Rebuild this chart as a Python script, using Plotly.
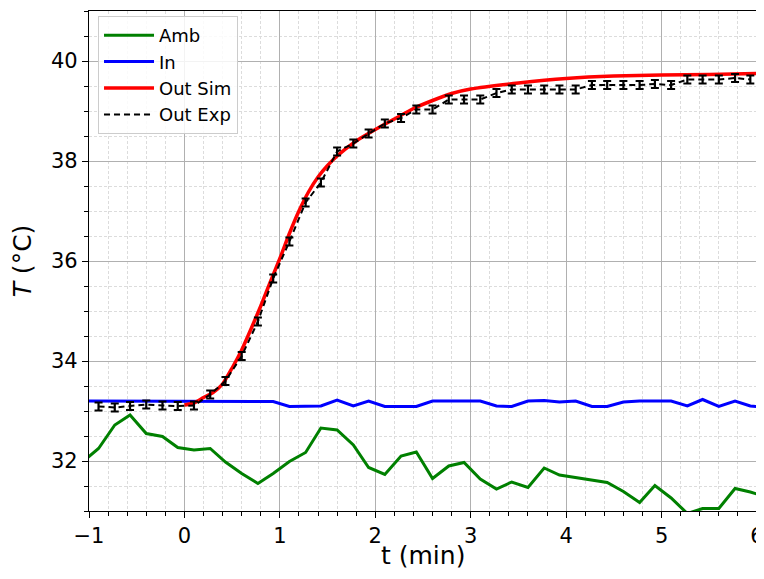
import plotly.graph_objects as go

# time grid of measurements (min)
t_meas = [-1.07, -0.9, -0.73, -0.57, -0.4, -0.23, -0.07, 0.1, 0.27, 0.43, 0.6, 0.77,
          0.93, 1.1, 1.27, 1.43, 1.6, 1.77, 1.93, 2.1, 2.27, 2.43, 2.6, 2.77, 2.93,
          3.1, 3.27, 3.43, 3.6, 3.77, 3.93, 4.1, 4.27, 4.43, 4.6, 4.77, 4.93, 5.1,
          5.27, 5.43, 5.6, 5.77, 5.93, 6.1]

amb = [31.98, 32.25, 32.72, 32.92, 32.55, 32.49, 32.27, 32.22, 32.25, 31.98, 31.75,
       31.55, 31.75, 31.99, 32.17, 32.66, 32.62, 32.32, 31.87, 31.73, 32.10, 32.18,
       31.65, 31.90, 31.97, 31.64, 31.44, 31.58, 31.47, 31.86, 31.72, 31.67, 31.61,
       31.57, 31.39, 31.17, 31.51, 31.26, 30.95, 31.05, 31.05, 31.45, 31.38, 31.28]

t_in = t_meas
inlet = [33.20, 33.20, 33.20, 33.20, 33.20, 33.20, 33.20, 33.19, 33.19, 33.19, 33.19,
         33.19, 33.19, 33.09, 33.09, 33.10, 33.22, 33.10, 33.20, 33.09, 33.09, 33.09,
         33.20, 33.20, 33.20, 33.20, 33.10, 33.09, 33.20, 33.21, 33.18, 33.20, 33.09,
         33.09, 33.18, 33.20, 33.20, 33.20, 33.10, 33.23, 33.09, 33.20, 33.10, 33.07]

t_exp = t_meas[1:43]
out_exp = [33.09, 33.07, 33.10, 33.13, 33.11, 33.10, 33.11, 33.33, 33.60, 34.10,
           34.79, 35.65, 36.39, 37.17, 37.57, 38.19, 38.35, 38.55, 38.75, 38.86,
           39.03, 39.03, 39.23, 39.23, 39.23, 39.36, 39.43, 39.43, 39.43, 39.43,
           39.43, 39.52, 39.52, 39.52, 39.52, 39.54, 39.52, 39.63, 39.63, 39.63,
           39.66, 39.63]
exp_err = [0.08] * len(out_exp)

t_sim = [0.0, 0.1, 0.2, 0.3, 0.4, 0.5, 0.6, 0.7, 0.8, 0.9, 1.0, 1.1, 1.2, 1.3, 1.4,
         1.5, 1.6, 1.8, 2.0, 2.2, 2.4, 2.6, 2.8, 3.0, 3.5, 4.0, 4.5, 5.0, 5.5, 6.0]
out_sim = [33.12, 33.16, 33.27, 33.37, 33.54, 33.86, 34.22, 34.65, 35.10, 35.58,
           36.05, 36.55, 37.00, 37.38, 37.68, 37.91, 38.10, 38.40, 38.63, 38.84,
           39.05, 39.21, 39.35, 39.44, 39.56, 39.65, 39.70, 39.72, 39.73, 39.75]

x_title = "t (min)"
y_title = "<i>T</i> (°C)"

fig = go.Figure()
fig.add_trace(go.Scatter(x=t_meas, y=amb, mode="lines", name="Amb",
                         line=dict(color="#008000", width=3)))
fig.add_trace(go.Scatter(x=t_in, y=inlet, mode="lines", name="In",
                         line=dict(color="#0000ff", width=3)))
fig.add_trace(go.Scatter(x=t_sim, y=out_sim, mode="lines", name="Out Sim",
                         line=dict(color="#ff0000", width=3.5, shape="spline", smoothing=0.5)))
fig.add_trace(go.Scatter(x=t_exp, y=out_exp, mode="lines", name="Out Exp",
                         line=dict(color="black", width=2, dash="6px,4px"),
                         error_y=dict(type="data", array=exp_err, visible=True,
                                      color="black", thickness=2.2, width=4)))

axis_common = dict(
    showline=True, linecolor="black", linewidth=1.3, mirror=True,
    ticks="outside", ticklen=6, tickwidth=1.2, tickcolor="black",
    showgrid=True, gridcolor="#b0b0b0", gridwidth=1.2,
    zeroline=False, automargin=False,
    tickfont=dict(family="DejaVu Sans", size=21, color="black"),
)

minor_common = dict(ticks="outside", ticklen=3.5, tickwidth=1, tickcolor="black",
                    showgrid=True, gridcolor="#dcdcdc", griddash="3px,2px", gridwidth=0.8)

fig.update_xaxes(range=[-1, 6], dtick=1, tick0=0,
                 minor=dict(dtick=0.2, tick0=0, **minor_common),
                 **axis_common)
fig.update_yaxes(range=[31, 41], dtick=2, tick0=0,
                 minor=dict(dtick=0.5, tick0=0, **minor_common),
                 title=dict(text=y_title, font=dict(family="DejaVu Sans", size=25, color="black"),
                            standoff=12),
                 **axis_common)

fig.add_annotation(text=x_title, xref="paper", yref="paper", x=0.5, y=-0.088,
                   xanchor="center", yanchor="middle", showarrow=False,
                   font=dict(family="DejaVu Sans", size=25, color="black"))

# page body has an 8px margin, so the figure is sized and offset to compensate
fig.update_layout(
    width=756, height=571,
    margin=dict(l=81, r=7, t=3, b=68),
    paper_bgcolor="white", plot_bgcolor="white",
    font=dict(family="DejaVu Sans", color="black"),
    legend=dict(x=0.0135, y=0.99, xanchor="left", yanchor="top",
                bgcolor="rgba(255,255,255,0.85)", bordercolor="#cccccc", borderwidth=1,
                font=dict(family="DejaVu Sans", size=18, color="black"),
                itemwidth=50),
    showlegend=True,
)

fig.write_html("out.html")
